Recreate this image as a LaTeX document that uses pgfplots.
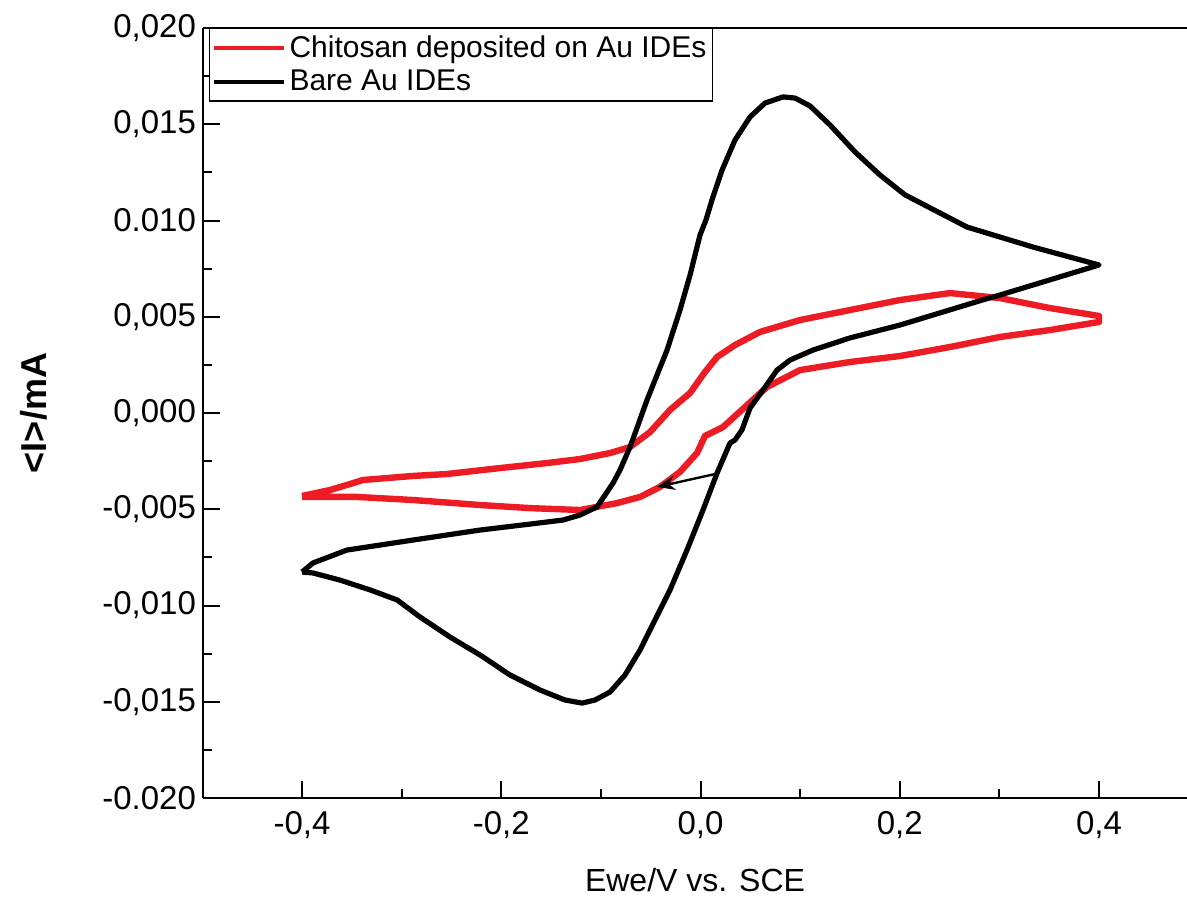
\documentclass[border=0pt]{standalone}
\usepackage{pgfplots}
\pgfplotsset{compat=1.18}
\usepackage{fontspec}
\setmainfont{Liberation Sans}
\usetikzlibrary{arrows.meta}
\definecolor{cvred}{RGB}{237,28,36}
\pgfplotsset{mylegend/.style={legend image code/.code={\draw[#1,line width=2pt] (0pt,0pt) -- (35pt,0pt);}}}
\begin{document}
\begin{tikzpicture}
\useasboundingbox (-101.5pt,-54pt) rectangle (492pt,399pt);
\begin{axis}[
  scale only axis, width=492pt, height=385pt,
  xmin=-0.4994, xmax=0.4883,
  ymin=-0.020, ymax=0.020,
  scaled y ticks=false, scaled x ticks=false,
  axis x line*=box, axis y line*=left,
  axis line style={line width=1pt,-},
  xtick={-0.4,-0.2,0,0.2,0.4},
  xticklabels={{-0,4},{-0,2},{0,0},{0,2},{0,4}},
  minor xtick={-0.3,-0.1,0.1,0.3},
  ytick={-0.02,-0.015,-0.01,-0.005,0,0.005,0.01,0.015,0.02},
  yticklabels={{-0.020},{-0,015},{-0,010},{-0,005},{0,000},{0,005},{0.010},{0,015},{0,020}},
  minor ytick={-0.0175,-0.0125,-0.0075,-0.0025,0.0025,0.0075,0.0125,0.0175},
  xtick pos=bottom, ytick pos=left,
  tick align=inside,
  major tick length=8.5pt, minor tick length=4.5pt,
  every tick/.style={black, line width=1pt},
  ticklabel style={font=\fontsize{16.5}{19}\selectfont},
  xticklabel style={yshift=-3pt},
  xlabel={Ewe/V vs. SCE},
  ylabel={\bfseries <I>/mA},
  xlabel style={font=\fontsize{16}{19}\selectfont, at={(axis description cs:0.5,-0.122)}, anchor=base},
  ylabel style={font=\fontsize{18}{21}\selectfont, at={(axis description cs:-0.172,0.5)}, anchor=center},
  mylegend,
  legend cell align=left,
  legend style={at={(axis description cs:0.006,1)}, anchor=north west, draw=black, line width=0.6pt,
    font=\fontsize{15}{18}\selectfont, inner xsep=1pt, inner ysep=1.5pt, row sep=1pt},
]
\addplot[cvred, line width=3.2pt, line join=round] coordinates {
(-0.400,-0.00431) (-0.3719,-0.00400) (-0.3519,-0.00369) (-0.3388,-0.00348) (-0.2886,-0.00327)
(-0.2545,-0.00317) (-0.2013,-0.00286) (-0.1541,-0.00260) (-0.1210,-0.00239) (-0.0908,-0.00208)
(-0.0708,-0.00177) (-0.0507,-0.00099) (-0.0306,0.00016) (-0.0105,0.00104) (0.0045,0.00213)
(0.0166,0.00291) (0.0346,0.00353) (0.0597,0.00421) (0.0999,0.00483) (0.1501,0.00535)
(0.2003,0.00587) (0.2505,0.00623) (0.3006,0.00597) (0.3508,0.00545) (0.400,0.00504)
(0.400,0.00473) (0.3508,0.00431) (0.3006,0.00395) (0.2505,0.00343) (0.2003,0.00296)
(0.1501,0.00265) (0.0999,0.00223) (0.0667,0.00135) (0.0446,0.00031) (0.0226,-0.00073)
(0.0045,-0.00119) (-0.0035,-0.00208) (-0.0206,-0.00306) (-0.0407,-0.00384) (-0.0607,-0.00436)
(-0.0838,-0.00468) (-0.1210,-0.00504) (-0.1711,-0.00494) (-0.2213,-0.00478) (-0.2886,-0.00452)
(-0.3448,-0.00436) (-0.400,-0.00436)
};
\addlegendentry{Chitosan deposited on Au IDEs}
\addplot[black, line width=2.6pt, line join=round] coordinates {
(-0.400,-0.00826) (-0.389,-0.00779) (-0.355,-0.00712) (-0.2886,-0.00660) (-0.2213,-0.00608)
(-0.1711,-0.00577) (-0.138,-0.00556) (-0.121,-0.00530) (-0.1039,-0.00488) (-0.0878,-0.00364)
(-0.0808,-0.00296) (-0.0708,-0.00177) (-0.0627,-0.00062) (-0.0537,0.00068) (-0.0437,0.00197)
(-0.0336,0.00327) (-0.0206,0.00535) (-0.0105,0.00717) (-0.0005,0.00925) (0.0055,0.01003)
(0.0115,0.01107) (0.0216,0.01262) (0.0346,0.01418) (0.0497,0.01538) (0.0647,0.01610)
(0.0828,0.01642) (0.0949,0.01636) (0.1099,0.01595) (0.1300,0.01496) (0.1551,0.01356)
(0.1802,0.01236) (0.2053,0.01133) (0.2675,0.00966) (0.3338,0.00862) (0.400,0.00769)
(0.3006,0.00613) (0.2836,0.00588) (0.2002,0.00457) (0.150,0.00390) (0.1129,0.00327)
(0.0898,0.00275) (0.0768,0.00223) (0.0627,0.00119) (0.0497,0.00026) (0.0416,-0.00088)
(0.0346,-0.00140) (0.0296,-0.00156) (0.0166,-0.00312) (0.0025,-0.00504) (-0.0136,-0.00712)
(-0.0306,-0.00919) (-0.0457,-0.01075) (-0.0607,-0.01231) (-0.0758,-0.01361) (-0.0908,-0.01449)
(-0.1059,-0.01491) (-0.1189,-0.01507) (-0.1360,-0.01491) (-0.1611,-0.01439) (-0.1912,-0.01361)
(-0.2213,-0.01257) (-0.2514,-0.01164) (-0.2815,-0.01060) (-0.3046,-0.00971) (-0.3317,-0.00919)
(-0.3619,-0.00868) (-0.389,-0.00831) (-0.400,-0.00826)
};
\addlegendentry{Bare Au IDEs}
\addplot[black, line width=1.2pt, -{Stealth[length=9pt,width=7pt]}, forget plot] coordinates {
(0.0146,-0.00317) (-0.0437,-0.00384)
};
\end{axis}
\end{tikzpicture}
\end{document}
